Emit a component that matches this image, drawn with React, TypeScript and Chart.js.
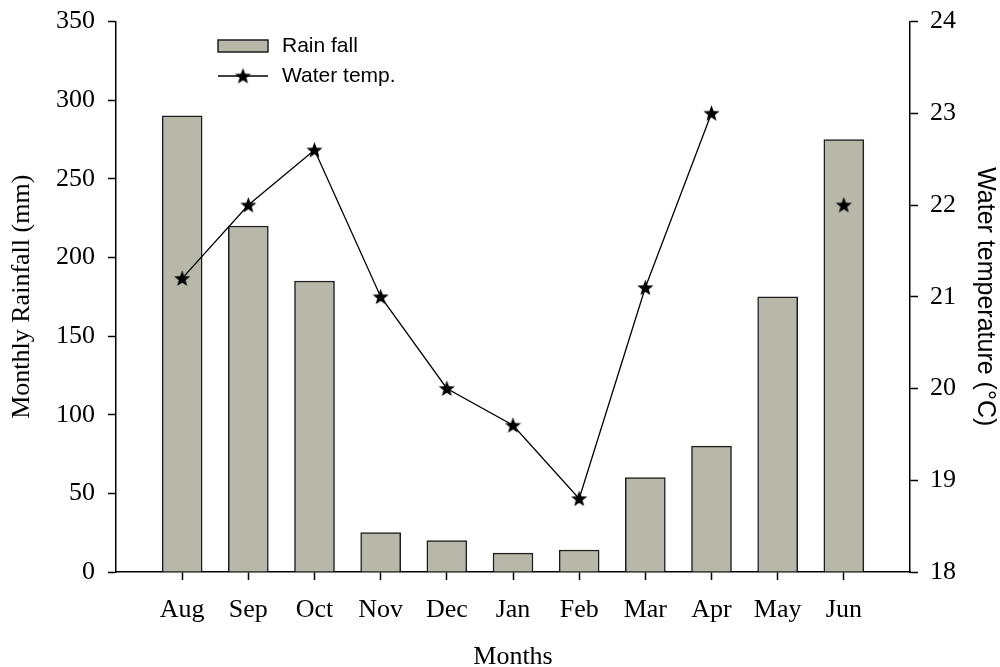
import React, { useEffect, useRef } from "react";
import { Chart, registerables } from "chart.js";

Chart.register(...registerables);

const months = ["Aug", "Sep", "Oct", "Nov", "Dec", "Jan", "Feb", "Mar", "Apr", "May", "Jun"];
const rainfall = [290, 220, 185, 25, 20, 12, 14, 60, 80, 175, 275];
const waterTemp: (number | null)[] = [21.2, 22.0, 22.6, 21.0, 20.0, 19.6, 18.8, 21.1, 23.0, null, 22.0];
const rainTicks = { min: 0, max: 350, step: 50 };
const tempTicks = { min: 18, max: 24, step: 1 };

const BAR_FILL = "#b8b8aa";
const BAR_EDGE = "#1e1e1e";
const SERIF = "'Liberation Serif', 'Times New Roman', serif";
const SANS = "'Liberation Sans', Arial, sans-serif";

function makeStar(size: number): HTMLCanvasElement {
  const c = document.createElement("canvas");
  c.width = size;
  c.height = size;
  const ctx = c.getContext("2d")!;
  const cx = size / 2;
  const cy = size / 2 + 0.6;
  const R = size / 2;
  const r = R * 0.42;
  ctx.beginPath();
  for (let i = 0; i < 10; i++) {
    const rad = i % 2 === 0 ? R : r;
    const a = -Math.PI / 2 + (i * Math.PI) / 5;
    const x = cx + rad * Math.cos(a);
    const y = cy + rad * Math.sin(a);
    if (i === 0) ctx.moveTo(x, y);
    else ctx.lineTo(x, y);
  }
  ctx.closePath();
  ctx.fillStyle = "#000";
  ctx.fill();
  return c;
}

export default function App() {
  const ref = useRef<HTMLCanvasElement | null>(null);

  useEffect(() => {
    if (!ref.current) return;
    const star = makeStar(17);
    const labels = ["", ...months, ""];
    const barData = [null, ...rainfall, null];
    const lineData = [null, ...waterTemp, null];

    const legendPlugin = {
      id: "insideLegend",
      afterDraw(chart: any) {
        const { ctx, chartArea } = chart;
        const x0 = chartArea.left + 102;
        const y0 = chartArea.top + 18.5;
        ctx.save();
        ctx.fillStyle = BAR_FILL;
        ctx.strokeStyle = BAR_EDGE;
        ctx.lineWidth = 1.5;
        ctx.fillRect(x0, y0, 50, 12);
        ctx.strokeRect(x0, y0, 50, 12);
        ctx.beginPath();
        ctx.strokeStyle = "#000";
        ctx.lineWidth = 1.3;
        ctx.moveTo(x0, y0 + 36);
        ctx.lineTo(x0 + 50, y0 + 36);
        ctx.stroke();
        ctx.drawImage(star, x0 + 25 - 8.5, y0 + 36 - 8.5);
        ctx.fillStyle = "#000";
        ctx.font = `21px ${SANS}`;
        ctx.textBaseline = "middle";
        ctx.textAlign = "left";
        ctx.fillText("Rain fall", x0 + 64, y0 + 6);
        ctx.fillText("Water temp.", x0 + 64, y0 + 36);
        ctx.restore();
      },
    };

    const edgeless = (c: any) =>
      c.index === 0 || c.index === labels.length - 1 ? "rgba(0,0,0,0)" : "#000";

    const fixVertical = (w: number) => (s: any) => {
      s.width = w;
      s.paddingTop = 0;
      s.paddingBottom = 0;
    };

    const chart = new Chart(ref.current, {
      type: "bar",
      data: {
        labels,
        datasets: [
          {
            type: "line",
            label: "Water temp.",
            data: lineData,
            yAxisID: "y1",
            borderColor: "#000",
            borderWidth: 1.3,
            pointStyle: star as any,
            pointRadius: 8,
            spanGaps: false,
            order: 0,
          } as any,
          {
            type: "bar",
            label: "Rain fall",
            data: barData,
            yAxisID: "y",
            backgroundColor: BAR_FILL,
            borderColor: BAR_EDGE,
            borderWidth: 1.5,
            barThickness: 40,
            order: 1,
          } as any,
        ],
      },
      options: {
        animation: false,
        responsive: true,
        maintainAspectRatio: false,
        layout: { autoPadding: false, padding: { top: 21.5, left: 0, right: 0, bottom: 0 } },
        plugins: { legend: { display: false }, tooltip: { enabled: false } },
        scales: {
          x: {
            type: "category",
            offset: false,
            afterFit: (s: any) => {
              s.height = 95;
              s.paddingLeft = 0;
              s.paddingRight = 0;
            },
            grid: {
              offset: false,
              drawOnChartArea: false,
              drawTicks: true,
              tickLength: 8,
              tickWidth: 1.5,
              color: edgeless,
            },
            border: { display: true, color: "#000", width: 1.5 },
            ticks: {
              autoSkip: false,
              maxRotation: 0,
              color: "#000",
              padding: 15,
              font: { family: SERIF, size: 26 },
            },
            title: {
              display: true,
              text: "Months",
              color: "#000",
              font: { family: SERIF, size: 26 },
              padding: { top: 0, bottom: -6 },
            },
          },
          y: {
            position: "left",
            min: rainTicks.min,
            max: rainTicks.max,
            afterFit: fixVertical(116),
            grid: {
              drawOnChartArea: false,
              drawTicks: true,
              tickLength: 8,
              tickWidth: 1.5,
              color: "#000",
            },
            border: { display: true, color: "#000", width: 1.5 },
            ticks: {
              stepSize: rainTicks.step,
              color: "#000",
              padding: 13,
              font: { family: SERIF, size: 26 },
            },
            title: {
              display: true,
              text: "Monthly Rainfall (mm)",
              color: "#000",
              font: { family: SERIF, size: 26 },
              padding: { top: 7, bottom: 0 },
            },
          },
          y1: {
            position: "right",
            min: tempTicks.min,
            max: tempTicks.max,
            afterFit: fixVertical(90),
            grid: {
              drawOnChartArea: false,
              drawTicks: true,
              tickLength: 8,
              tickWidth: 1.5,
              color: "#000",
            },
            border: { display: true, color: "#000", width: 1.5 },
            ticks: {
              stepSize: tempTicks.step,
              color: "#000",
              padding: 12,
              font: { family: SERIF, size: 26 },
            },
            title: {
              display: true,
              text: "Water temperature (°C)",
              color: "#000",
              font: { family: SANS, size: 25 },
              padding: { top: 0, bottom: 0 },
            },
          },
        },
      } as any,
      plugins: [legendPlugin],
    });
    return () => chart.destroy();
  }, []);

  return (
    <div style={{ position: "absolute", left: 0, top: 0, width: 1000, height: 667, background: "#fff" }}>
      <canvas ref={ref} />
    </div>
  );
}
